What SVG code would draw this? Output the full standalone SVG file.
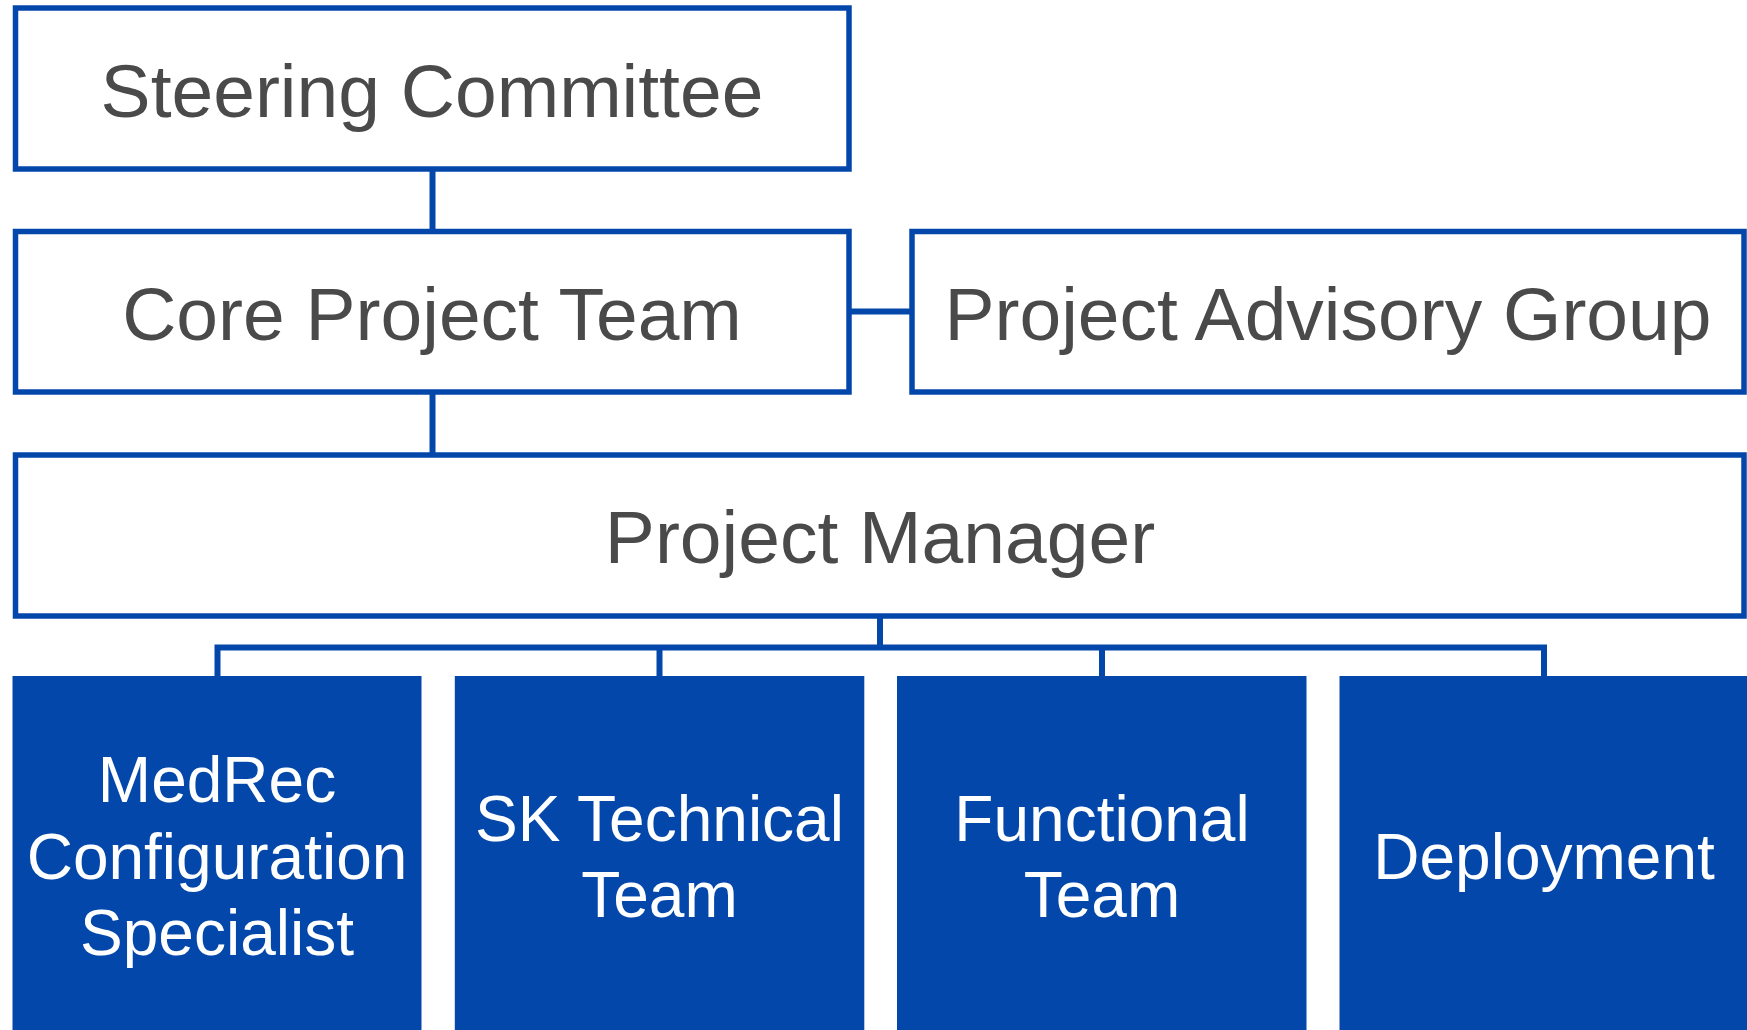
<svg xmlns="http://www.w3.org/2000/svg" width="1747" height="1030" viewBox="0 0 1747 1030">
<style>
.box{fill:#ffffff;stroke:#0447AB;stroke-width:5.5}
.fbox{fill:#0447AB}
.conn{stroke:#0447AB;stroke-width:6;fill:none}
.t{font-family:"Liberation Sans",Arial,sans-serif;font-size:75px;fill:#4a4a4a;text-anchor:middle}
.w{font-family:"Liberation Sans",Arial,sans-serif;font-size:64px;fill:#ffffff;text-anchor:middle}
</style>
<rect width="1747" height="1030" fill="#ffffff"/>
<g id="connectors">
<line class="conn" x1="432.5" y1="169" x2="432.5" y2="231.5"/>
<line class="conn" x1="849" y1="311.5" x2="912" y2="311.5"/>
<line class="conn" x1="432.5" y1="392" x2="432.5" y2="455"/>
<line class="conn" x1="880" y1="616" x2="880" y2="647.5"/>
<polyline class="conn" points="217.5,677 217.5,647.5 1544,647.5 1544,677"/>
<line class="conn" x1="659.5" y1="647.5" x2="659.5" y2="677"/>
<line class="conn" x1="1102" y1="647.5" x2="1102" y2="677"/>
</g>
<g id="steering">
<rect class="box" x="15.5" y="8" width="833.5" height="161"/>
<text class="t" x="432" y="117">Steering Committee</text>
</g>
<g id="core">
<rect class="box" x="15.5" y="231.5" width="833.5" height="160.5"/>
<text class="t" x="432" y="340">Core Project Team</text>
</g>
<g id="advisory">
<rect class="box" x="912" y="231.5" width="832" height="160.5"/>
<text class="t" x="1328" y="340">Project Advisory Group</text>
</g>
<g id="pm">
<rect class="box" x="15.5" y="455" width="1728.5" height="161"/>
<text class="t" x="880" y="563">Project Manager</text>
</g>
<g id="medrec">
<rect class="fbox" x="12.5" y="676" width="409" height="360"/>
<text class="w" x="217" y="802">MedRec</text>
<text class="w" x="217" y="879">Configuration</text>
<text class="w" x="217" y="955">Specialist</text>
</g>
<g id="sk">
<rect class="fbox" x="454.8" y="676" width="409.5" height="360"/>
<text class="w" x="659.5" y="841">SK Technical</text>
<text class="w" x="659.5" y="917">Team</text>
</g>
<g id="functional">
<rect class="fbox" x="897" y="676" width="409.5" height="360"/>
<text class="w" x="1102" y="841">Functional</text>
<text class="w" x="1102" y="917">Team</text>
</g>
<g id="deployment">
<rect class="fbox" x="1339.5" y="676" width="412" height="360"/>
<text class="w" x="1544" y="879">Deployment</text>
</g>
</svg>
